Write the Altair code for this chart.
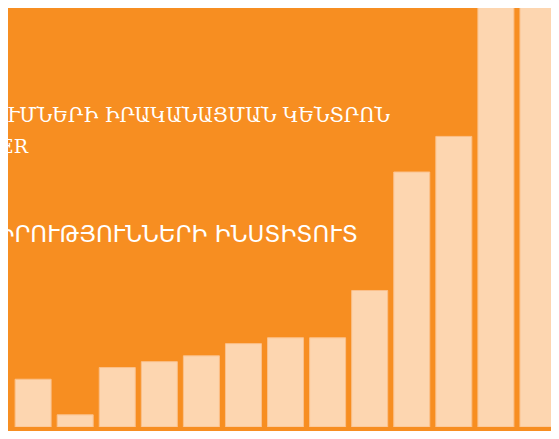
import altair as alt
import pandas as pd

# Bar data (arbitrary units ~ pixel heights)
bar_index = list(range(1, 14))
bar_values = [49, 12.5, 61, 67, 73, 85.5, 91.5, 91.5, 140, 261.5, 298, 431.5, 470]

# Text lines (their left part is cut by the picture edge)
text_lines = [
    "ԲԱՐԵՓՈԽՈՒՄՆԵՐԻ ԻՐԱԿԱՆԱՑՄԱՆ ԿԵՆՏՐՈՆ",
    "REFORMS IMPLEMENTATION CENTER",
    "ՈՒՍՈՒՄՆԱՍԻՐՈՒԹՅՈՒՆՆԵՐԻ ԻՆՍՏԻՏՈՒՏ",
]

BG = "#F78E21"

df = pd.DataFrame({"idx": bar_index, "value": bar_values})

bars = alt.Chart(df).mark_bar(
    size=36, fill="#FDD6B0", stroke="#FBC08A", strokeWidth=1, clip=True
).encode(
    x=alt.X("idx:Q", scale=alt.Scale(domain=[0.5217, 13.191], nice=False, zero=False), axis=None),
    y=alt.Y("value:Q", scale=alt.Scale(domain=[0, 429.7], nice=False), axis=None),
)

t1 = alt.Chart(pd.DataFrame({"t": [text_lines[0]]})).mark_text(
    align="right", baseline="alphabetic", font="DejaVu Serif", fontSize=19.5, color="white"
).encode(text="t:N", x=alt.value(382), y=alt.value(114))

t2 = alt.Chart(pd.DataFrame({"t": [text_lines[1]]})).mark_text(
    align="right", baseline="alphabetic", font="DejaVu Serif", fontSize=19, color="white"
).encode(text="t:N", x=alt.value(20), y=alt.value(145))

t3 = alt.Chart(pd.DataFrame({"t": [text_lines[2]]})).mark_text(
    align="right", baseline="alphabetic", font="DejaVu Sans", fontSize=23, color="white"
).encode(text="t:N", x=alt.value(350), y=alt.value(234))

chart = alt.layer(bars, t1, t2, t3).properties(
    width=543,
    height=419,
    background=BG,
    padding={"left": 0, "top": 0, "right": 0, "bottom": 4},
    autosize=alt.AutoSizeParams(type="none"),
).configure_view(stroke=None, fill=BG)

chart.save("out.html", embed_options={"renderer": "svg", "actions": False})
